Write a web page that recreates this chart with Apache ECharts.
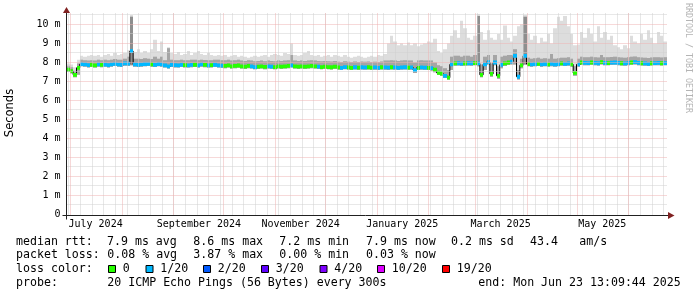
<!DOCTYPE html>
<html><head><meta charset="utf-8">
<script src="https://cdn.jsdelivr.net/npm/echarts@6/dist/echarts.min.js"></script>
<style>html,body{margin:0;padding:0;background:#fff}#c{width:697px;height:297px}</style>
</head><body><div id="c"></div>
<script>
// ---------- time frame (360 days ending at "end:" time) ----------
const START = Date.UTC(2024, 5, 28, 13, 9, 44);
const END = Date.UTC(2025, 5, 23, 13, 9, 44);
const DAY = 86400000;
const STEP = 2 * DAY;               // one sample every 2 days

// ---------- median RTT (ms), four quarters ----------
const medianQ1 = [7.62,7.55,7.35,7.72,7.92,7.9,7.86,7.88,7.85,7.9,
  7.87,7.89,7.86,7.9,7.93,7.9,7.88,7.95,7.94,8.6,
  7.9,7.88,7.9,7.92,7.93,7.9,7.88,7.92,7.9,7.85,
  7.8,7.88,7.86,7.85,7.88,7.86,7.85,7.87,7.88,7.85,
  7.9,7.87,7.85,7.86,7.88];
const medianQ2 = [7.85,7.83,7.82,7.85,7.8,7.82,7.84,7.8,7.78,7.82,
  7.8,7.76,7.78,7.8,7.77,7.8,7.78,7.76,7.8,7.78,
  7.8,7.82,7.85,7.8,7.78,7.8,7.78,7.8,7.82,7.8,
  7.78,7.76,7.78,7.76,7.75,7.78,7.74,7.72,7.76,7.74,
  7.72,7.75,7.73,7.75,7.74];
const medianQ3 = [7.75,7.73,7.74,7.72,7.75,7.74,7.73,7.75,7.74,7.72,
  7.74,7.75,7.73,7.74,7.6,7.72,7.74,7.73,7.72,7.7,
  7.62,7.46,7.42,7.3,7.2,7.9,7.95,7.96,7.94,7.95,
  7.96,7.95,7.97,7.95,7.35,7.9,8.02,7.4,8.0,7.3,
  7.88,7.95,8.0,8.05,8.35];
const medianQ4 = [7.25,7.85,8.35,7.92,7.9,7.92,7.93,7.9,7.92,7.9,
  7.93,7.9,7.92,7.95,7.93,7.95,7.9,7.45,7.9,8.0,
  7.98,7.97,8.0,7.98,7.96,8.02,7.98,7.97,7.99,8.0,
  7.98,7.96,7.95,7.98,8.0,8.02,7.98,7.96,7.95,7.93,
  7.96,7.97,7.98,7.96,7.97];

// ---------- smoke: lowest ping (ms) ----------
const smokeLoQ1 = [7.5,7.42,7.22,7.35,7.8,7.78,7.74,7.76,7.73,7.78,
  7.75,7.77,7.74,7.78,7.81,7.78,7.76,7.83,7.82,7.85,
  7.78,7.76,7.78,7.8,7.81,7.78,7.76,7.8,7.78,7.73,
  7.68,7.76,7.74,7.73,7.76,7.74,7.73,7.75,7.76,7.73,
  7.78,7.75,7.73,7.74,7.76];
const smokeLoQ2 = [7.73,7.71,7.7,7.73,7.68,7.7,7.72,7.68,7.66,7.7,
  7.68,7.64,7.66,7.68,7.65,7.68,7.66,7.64,7.68,7.66,
  7.68,7.7,7.73,7.68,7.66,7.68,7.66,7.68,7.7,7.68,
  7.66,7.64,7.66,7.64,7.63,7.66,7.62,7.6,7.64,7.62,
  7.6,7.63,7.61,7.63,7.62];
const smokeLoQ3 = [7.63,7.61,7.62,7.6,7.63,7.62,7.61,7.63,7.62,7.6,
  7.62,7.63,7.61,7.62,7.45,7.6,7.62,7.61,7.6,7.56,
  7.48,7.34,7.3,7.18,7.1,7.6,7.83,7.84,7.82,7.83,
  7.84,7.83,7.85,7.8,7.22,7.6,7.88,7.25,7.85,7.15,
  7.7,7.82,7.87,7.9,7.9];
const smokeLoQ4 = [7.1,7.7,7.9,7.8,7.78,7.8,7.81,7.78,7.8,7.78,
  7.8,7.78,7.8,7.83,7.81,7.83,7.78,7.3,7.78,7.88,
  7.86,7.85,7.88,7.86,7.84,7.9,7.86,7.85,7.87,7.88,
  7.86,7.84,7.83,7.86,7.88,7.9,7.86,7.84,7.83,7.81,
  7.84,7.85,7.86,7.84,7.85];

// ---------- smoke: top of the denser band (ms) ----------
const smokeMidQ1 = [7.75,7.7,7.5,7.95,8.15,8.12,8.1,8.12,8.1,8.15,
  8.12,8.14,8.12,8.15,8.18,8.15,8.14,8.2,8.3,10.4,
  8.2,8.2,8.18,8.22,8.2,8.18,8.3,8.2,8.3,8.12,
  8.75,8.15,8.12,8.12,8.15,8.12,8.12,8.14,8.15,8.12,
  8.15,8.13,8.12,8.12,8.14];
const smokeMidQ2 = [8.15,8.12,8.12,8.15,8.1,8.12,8.14,8.1,8.08,8.12,
  8.1,8.06,8.08,8.1,8.07,8.1,8.08,8.06,8.1,8.08,
  8.1,8.12,8.4,8.1,8.08,8.1,8.08,8.1,8.12,8.1,
  8.08,8.06,8.08,8.06,8.05,8.08,8.04,8.02,8.06,8.04,
  8.02,8.05,8.03,8.05,8.04];
const smokeMidQ3 = [8.05,8.03,8.04,8.02,8.05,8.1,8.1,8.12,8.1,8.08,
  8.1,8.12,8.1,8.1,8.0,8.1,8.12,8.1,8.1,8.1,
  8.0,7.85,7.8,7.7,7.6,8.3,8.35,8.35,8.3,8.35,
  8.35,8.3,8.4,10.45,7.9,8.3,8.4,7.95,8.4,7.8,
  8.3,8.35,8.4,8.4,8.7];
const smokeMidQ4 = [7.6,8.2,10.4,8.25,8.2,8.22,8.25,8.2,8.22,8.2,
  8.45,8.2,8.22,8.25,8.25,8.28,8.2,7.8,8.2,8.3,
  8.28,8.27,8.3,8.28,8.26,8.4,8.28,8.27,8.29,8.3,
  8.28,8.26,8.25,8.28,8.3,8.32,8.28,8.26,8.25,8.23,
  8.26,8.27,8.28,8.26,8.27];

// ---------- smoke: highest ping (ms) ----------
const smokeHiQ1 = [7.95,7.9,7.75,8.15,8.35,8.3,8.35,8.4,8.35,8.4,
  8.3,8.4,8.45,8.35,8.5,8.4,8.45,8.5,8.65,10.5,
  8.55,8.7,8.5,8.6,8.5,8.7,9.2,8.6,9.1,8.55,
  8.8,8.5,8.45,8.55,8.4,8.45,8.6,8.4,8.5,8.6,
  8.45,8.4,8.5,8.4,8.35];
const smokeHiQ2 = [8.4,8.35,8.4,8.3,8.35,8.4,8.3,8.35,8.3,8.25,
  8.3,8.35,8.3,8.35,8.4,8.3,8.4,8.45,8.4,8.35,
  8.5,8.45,9.0,8.4,8.35,8.4,8.5,8.6,8.4,8.35,
  8.4,8.3,8.35,8.4,8.3,8.4,8.35,8.3,8.4,8.3,
  8.25,8.3,8.35,8.3,8.25];
const smokeHiQ3 = [8.3,8.35,8.3,8.4,8.35,8.45,9.0,9.4,9.1,8.9,
  9.0,8.9,9.05,8.9,9.0,8.85,8.95,9.0,9.1,9.05,
  9.25,8.6,8.5,8.7,9.0,9.4,9.7,9.3,10.2,9.8,
  9.3,9.2,9.4,10.55,9.6,9.2,9.7,9.3,9.2,9.5,
  9.2,9.95,9.3,9.1,9.4];
const smokeHiQ4 = [9.9,10.0,10.5,9.5,9.2,9.4,9.0,9.3,9.1,9.5,
  9.0,9.8,10.4,10.2,10.45,9.9,9.5,8.9,8.95,9.6,
  9.3,9.8,9.5,9.1,9.9,9.3,9.6,9.2,9.4,8.9,
  8.8,8.7,8.9,8.75,9.4,9.1,9.0,9.5,9.2,9.7,
  9.3,9.0,9.6,9.4,9.1];

// ---------- lost pings out of 20 ----------
const lossQ1 = [0,0,0,0,1,1,1,0,0,1, 0,1,1,1,1,1,1,1,1,1, 1,1,1,1,1,0,1,1,1,1, 1,1,1,1,1,0,1,1,0,1, 1,0,1,0,1];
const lossQ2 = [1,1,0,0,0,0,0,0,0,0, 1,1,0,0,0,1,1,0,0,0, 0,0,1,0,0,0,0,0,0,0, 1,0,0,0,0,0,0,1,1,0, 0,1,0,1,1];
const lossQ3 = [0,0,1,1,0,1,1,0,1,1, 1,1,0,1,1,0,1,1,0,1, 0,0,0,1,0,1,0,1,1,0, 1,1,0,1,0,1,1,0,1,0, 1,0,0,1,1];
const lossQ4 = [1,0,1,0,1,1,0,1,1,0, 1,1,1,0,1,1,0,0,1,0, 1,1,0,1,1,0,1,0,1,1, 1,0,1,1,0,1,1,0,1,1, 0,1,1,0,1];

// ---------- legend / axis texts ----------
const lossLabels = ['0','1/20','2/20','3/20','4/20','10/20','19/20'];
const lossColors = ['#26ff00','#00b8ff','#0059ff','#5e00ff','#7e00ff','#dd00ff','#ff0000'];
const lossThresholds = [0,1,2,3,4,10,19];
const rttStats = ['7.9 ms avg','8.6 ms max','7.2 ms min','7.9 ms now','0.2 ms sd','43.4','am/s'];
const lossStats = ['0.08 % avg','3.87 % max','0.00 % min','0.03 % now'];
const probeText = '20 ICMP Echo Pings (56 Bytes) every 300s';
const endText = 'end: Mon Jun 23 13:09:44 2025';
const monthLabels = ['July 2024','September 2024','November 2024','January 2025','March 2025','May 2025'];
const monthLabelDates = ['2024-07-16','2024-09-16','2024-11-16','2025-01-16','2025-03-16','2025-05-16'];
const monthStarts = ['2024-07-01','2024-08-01','2024-09-01','2024-10-01','2024-11-01','2024-12-01',
  '2025-01-01','2025-02-01','2025-03-01','2025-04-01','2025-05-01','2025-06-01'];
const FIRST_WEEK_LINE = '2024-06-30';
const yTicks = [0,1,2,3,4,5,6,7,8,9,10];
const yMinorTicks = [0.5,1.5,2.5,3.5,4.5,5.5,6.5,7.5,8.5,9.5,10.5];
const Y_MAX = 10.63;

// ---------- assemble ----------
const median = [...medianQ1,...medianQ2,...medianQ3,...medianQ4];
const smokeLo = [...smokeLoQ1,...smokeLoQ2,...smokeLoQ3,...smokeLoQ4];
const smokeMid = [...smokeMidQ1,...smokeMidQ2,...smokeMidQ3,...smokeMidQ4];
const smokeHi = [...smokeHiQ1,...smokeHiQ2,...smokeHiQ3,...smokeHiQ4];
const loss = [...lossQ1,...lossQ2,...lossQ3,...lossQ4];

function lossColor(n){ let c = lossColors[0]; lossThresholds.forEach((t,k)=>{ if(n>=t) c = lossColors[k]; }); return c; }

const smokeData = median.map((m,i)=>[START+i*STEP, START+(i+1)*STEP, smokeLo[i], smokeMid[i], smokeHi[i], m]);
const barData = median.map((m,i)=>[START+i*STEP, START+(i+1)*STEP, m, loss[i]]);
const lineData = median.map((m,i)=>[START+i*STEP, m]).concat([[END, median[median.length-1]]]);

const tMonth = monthStarts.map(s=>Date.parse(s));
const tLabel = monthLabelDates.map(s=>Date.parse(s));
const tWeeks = []; for(let t=Date.parse(FIRST_WEEK_LINE); t<END; t+=7*DAY) tWeeks.push(t);

const chart = echarts.init(document.getElementById('c'), null, {renderer:'canvas'});
chart.setOption({
  animation:false,
  backgroundColor:'#ffffff',
  grid:{left:66.5, top:12.5, width:600, height:202},
  xAxis:{type:'value', min:START, max:END, axisLine:{show:false}, axisTick:{show:false}, splitLine:{show:false},
    axisLabel:{customValues:tLabel, formatter:v=>monthLabels[tLabel.indexOf(v)] || '',
      fontFamily:'DejaVu Sans Mono', fontSize:10, color:'#000', margin:5}},
  yAxis:{type:'value', min:0, max:Y_MAX, interval:1, axisLine:{show:false}, axisTick:{show:false}, splitLine:{show:false},
    axisLabel:{customValues:yTicks, formatter:v=>v===0?'0':v+' m',
      fontFamily:'DejaVu Sans Mono', fontSize:10, color:'#000', margin:6}},
  series:[
    {type:'custom', z:1, silent:true, clip:true, data:smokeData, encode:{x:[0,1], y:[2,3,4]},
      renderItem(params, api){
        const x0 = Math.round(api.coord([api.value(0),0])[0]);
        const x1 = Math.round(api.coord([api.value(1),0])[0]);
        const yLo = api.coord([api.value(0),api.value(2)])[1];
        const yMid = api.coord([api.value(0),api.value(3)])[1];
        const yHi = api.coord([api.value(0),api.value(4)])[1];
        const yMed = api.coord([api.value(0),api.value(5)])[1];
        return {type:'group', children:[
          {type:'rect', shape:{x:x0,y:yHi,width:x1-x0,height:yLo-yHi}, style:{fill:'#dddddd'}},
          {type:'rect', shape:{x:x0,y:yMid,width:x1-x0,height:yLo-yMid}, style:{fill:'#c2c2c2'}},
          {type:'rect', shape:{x:x0,y:Math.min(yMid,yMed-4),width:x1-x0,height:yLo-Math.min(yMid,yMed-4)}, style:{fill:'#8e8e8e', opacity: (yMed-yMid > 20 ? 1 : 0.55)}}
        ]};
      }},
    {type:'line', z:2, silent:true, step:'end', data:lineData, symbol:'none', lineStyle:{color:'#000',width:1}},
    {type:'custom', z:3, silent:true, clip:true, data:barData, encode:{x:[0,1], y:2},
      renderItem(params, api){
        const x0 = Math.round(api.coord([api.value(0),0])[0]);
        const x1 = Math.round(api.coord([api.value(1),0])[0]);
        const yT = api.coord([api.value(0),api.value(2)+0.1])[1];
        const yB = api.coord([api.value(0),api.value(2)-0.1])[1];
        return {type:'rect', shape:{x:x0,y:yT,width:x1-x0,height:yB-yT}, style:{fill:lossColor(api.value(3))}};
      }}
  ]
});

// ---------- grid, axes, arrows and texts ----------
const P = (t,v)=>chart.convertToPixel({gridIndex:0},[t,v]);
const o = P(START,0);
const r = P(END,Y_MAX);
const ax = Math.floor(o[0]) + 0.5, ay = Math.round(o[1]) + 0.5;
const AXIS = '#212121', ARROW = '#802121';
const GRAY = '#d0d0d0', RED = '#eeb2b2';
const FONT = '11.6px "DejaVu Sans Mono"';
const g = [];
function hline(v, color){ const y = Math.floor(P(START,v)[1]) + 0.5;
  g.push({type:'line', z:4, silent:true, shape:{x1:ax, y1:y, x2:Math.round(r[0]), y2:y}, style:{stroke:color, lineWidth:1, lineDash:[1,1]}}); }
function vline(t, color){ const x = Math.floor(P(t,0)[0]) + 0.5;
  g.push({type:'line', z:4, silent:true, shape:{x1:x, y1:ay, x2:x, y2:Math.round(r[1])}, style:{stroke:color, lineWidth:1, lineDash:[1,1]}}); }
yMinorTicks.forEach(v=>hline(v, GRAY));
tWeeks.forEach(t=>vline(t, GRAY));
yTicks.filter(v=>v>0).forEach(v=>hline(v, RED));
tMonth.forEach(t=>vline(t, RED));

g.push({type:'line', z:10, shape:{x1:ax-4, y1:ay, x2:r[0]+2, y2:ay}, style:{stroke:AXIS, lineWidth:1}});
g.push({type:'line', z:10, shape:{x1:ax, y1:ay+4, x2:ax, y2:r[1]}, style:{stroke:AXIS, lineWidth:1}});
g.push({type:'polygon', z:10, shape:{points:[[r[0]+1.5,ay-3.5],[r[0]+1.5,ay+3.5],[r[0]+8,ay]]}, style:{fill:ARROW}});
g.push({type:'polygon', z:10, shape:{points:[[ax-3.5,r[1]+0.5],[ax+3.5,r[1]+0.5],[ax,r[1]-5.5]]}, style:{fill:ARROW}});
function txt(s, x, y, font, extra){ return Object.assign({type:'text', x:x, y:y, z:10,
  style:{text:s, font:font||FONT, fill:'#000', align:'left', verticalAlign:'middle', textAlign:'left', textVerticalAlign:'middle'}}, extra||{}); }
const yl = txt('Seconds', 10, 113, '11.5px "DejaVu Sans"', {rotation:Math.PI/2});
yl.style.align='center'; yl.style.textAlign='center'; g.push(yl);
const wm = txt('RRDTOOL / TOBI OETIKER', 688, 58, '8.3px "DejaVu Sans Mono"', {rotation:-Math.PI/2});
wm.style.align='center'; wm.style.textAlign='center'; wm.style.fill='#b4b4b4'; g.push(wm);
const row = [241.5, 255.2, 269, 282.7];
g.push(txt('median rtt:', 16, row[0]));
[107, 193.3, 279.3, 366, 451, 530, 579.3].forEach((x,k)=>g.push(txt(rttStats[k], x, row[0])));
g.push(txt('packet loss:', 16, row[1]));
[107.3, 193.3, 279.3, 366].forEach((x,k)=>g.push(txt(lossStats[k], x, row[1])));
g.push(txt('loss color:', 16, row[2]));
[108.5, 146, 203.5, 261.5, 320, 377.5, 442.5].forEach((x,k)=>{
  g.push({type:'rect', z:10, shape:{x:x, y:265.5, width:7, height:7}, style:{fill:lossColors[k], stroke:'#000', lineWidth:1}});
  g.push(txt(lossLabels[k], x+14.3, row[2]));
});
g.push(txt('probe:', 16, row[3]));
g.push(txt(probeText, 107.3, row[3]));
g.push(txt(endText, 478.3, row[3]));
chart.setOption({graphic:g});
</script></body></html>
